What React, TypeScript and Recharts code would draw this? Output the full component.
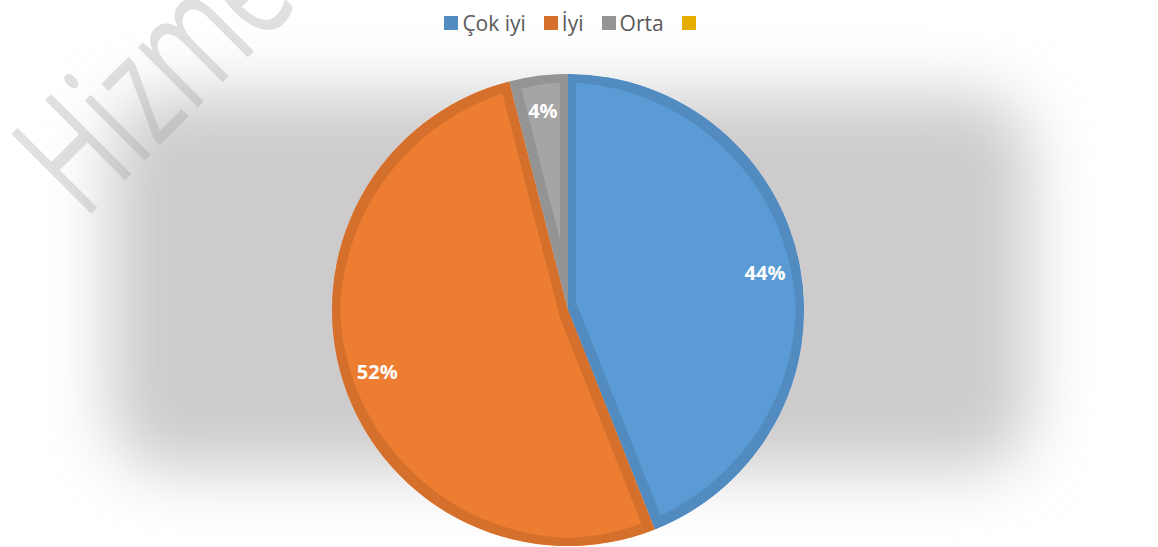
import React from 'react';
import { PieChart, Pie, Cell, Legend } from 'recharts';

// answers to the satisfaction question
const categories = ['Çok iyi', 'İyi', 'Orta', ''];
const values = [44, 52, 4, 0];

const FILLS = ['#5B9BD5', '#ED7D31', '#A5A5A5', '#FFC000'];
const SHADES = ['#528CC0', '#D5712C', '#959595', '#E6AD00'];

const data = categories.map((name, i) => ({ name, value: values[i] }));

const RADIAN = Math.PI / 180;

const renderLabel = (props: any) => {
    const { cx, cy, midAngle, outerRadius, percent, value } = props;
    if (!value) return null;
    const r = outerRadius * 0.85;
    const x = cx + r * Math.cos(-midAngle * RADIAN);
    const y = cy + r * Math.sin(-midAngle * RADIAN);
    return (
        <text
            x={x}
            y={y}
            fill="#FFFFFF"
            textAnchor="middle"
            dominantBaseline="central"
            fontFamily="'Open Sans', sans-serif"
            fontWeight={700}
            fontSize={20}
        >
            {`${Math.round(percent * 100)}%`}
        </text>
    );
};

const renderLegend = () => (
    <div style={{ display: 'flex', justifyContent: 'center', fontFamily: "'Open Sans', sans-serif", fontSize: 21, color: '#595959', lineHeight: '28px' }}>
        {categories.map((c, i) => (
            <div key={i} style={{ display: 'flex', alignItems: 'center', marginRight: i < categories.length - 1 ? 18 : 0 }}>
                <span style={{ display: 'inline-block', width: 14, height: 14, background: SHADES[i], marginRight: c ? 4 : 0 }} />
                <span>{c}</span>
            </div>
        ))}
    </div>
);

export default function App() {
    return (
        <div style={{ position: 'absolute', left: 0, top: 0, width: 1158, height: 547, background: '#FFFFFF', overflow: 'hidden' }}>
            <style>{`.recharts-pie-sector .recharts-sector { filter: url(#innerBand); }`}</style>
            <svg width={1158} height={547} style={{ position: 'absolute', left: 0, top: 0 }}>
                <defs>
                    <filter id="glow" x="-30%" y="-40%" width="160%" height="180%">
                        <feGaussianBlur stdDeviation="32" />
                    </filter>
                    <filter id="innerBand" colorInterpolationFilters="sRGB">
                        <feMorphology in="SourceAlpha" operator="erode" radius="8" result="inner" />
                        <feComposite in="SourceAlpha" in2="inner" operator="out" result="band" />
                        <feComponentTransfer in="SourceGraphic" result="dark">
                            <feFuncR type="linear" slope="0.9" />
                            <feFuncG type="linear" slope="0.9" />
                            <feFuncB type="linear" slope="0.9" />
                        </feComponentTransfer>
                        <feComposite in="dark" in2="band" operator="in" result="darkBand" />
                        <feMerge>
                            <feMergeNode in="SourceGraphic" />
                            <feMergeNode in="darkBand" />
                        </feMerge>
                    </filter>
                </defs>
                <rect x={110} y={95} width={920} height={375} rx={60} fill="#CDCBCB" filter="url(#glow)" />
                {/* watermark */}
                <text
                    transform="translate(84,221) rotate(-45) scale(0.66,1)"
                    fontFamily="'Open Sans', sans-serif"
                    fontSize={158}
                    fill="#999999"
                    fillOpacity={0.3}
                >
                    Hizmet
                </text>
            </svg>
            <div style={{ position: 'absolute', left: 0, top: 0 }}>
                <PieChart width={1158} height={547}>
                    <Legend
                        verticalAlign="top"
                        content={renderLegend}
                        wrapperStyle={{ top: 9, left: 0, width: 1140 }}
                    />
                    <Pie
                        data={data}
                        dataKey="value"
                        nameKey="name"
                        cx={563}
                        cy={277}
                        outerRadius={236}
                        startAngle={90}
                        endAngle={-270}
                        stroke="none"
                        label={renderLabel}
                        labelLine={false}
                        isAnimationActive={false}
                    >
                        {data.map((entry, i) => (
                            <Cell key={entry.name + i} fill={FILLS[i]} />
                        ))}
                    </Pie>
                </PieChart>
            </div>
        </div>
    );
}
